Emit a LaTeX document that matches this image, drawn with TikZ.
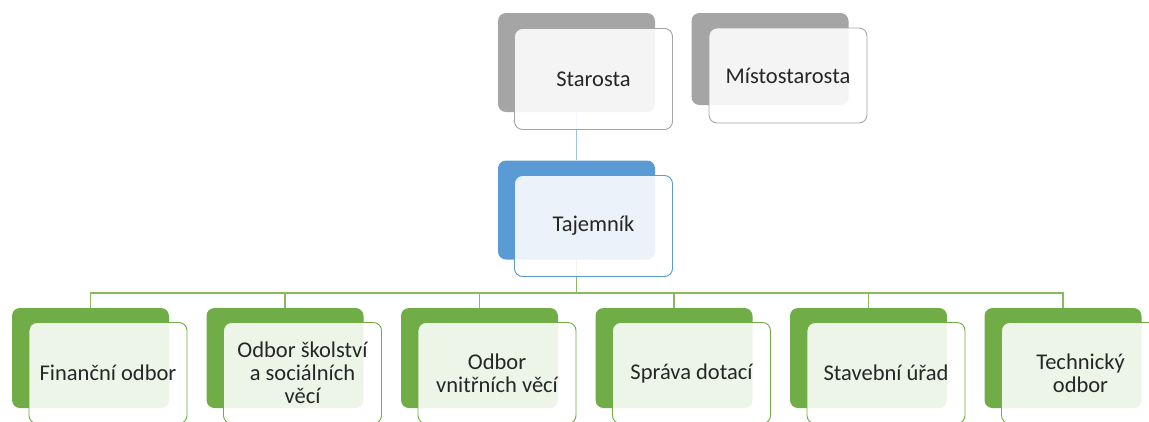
\documentclass[tikz,border=0pt]{standalone}
\usepackage{fontspec}
\setmainfont{Carlito}
\definecolor{greyback}{HTML}{A5A5A5}
\definecolor{blueback}{HTML}{5B9BD5}
\definecolor{greenback}{HTML}{70AD47}
\definecolor{blueline}{HTML}{9DC3E6}
\definecolor{greenline}{HTML}{86BC5F}
\definecolor{textgrey}{HTML}{262626}

\begin{document}
\begin{tikzpicture}[x=1pt,y=-1pt]
\tikzstyle{every node}+=[inner sep=0pt]
\tikzstyle{back}=[rounded corners=8pt, minimum width=157pt, minimum height=99pt]
\tikzstyle{front}=[draw, line width=0.9pt, rounded corners=8pt, fill=white, fill opacity=0.88, text opacity=1, minimum width=158pt, minimum height=101pt, align=center, text=textgrey, font=\fontsize{22.5}{23}\selectfont]
\useasboundingbox (0,0) rectangle (1149,421);
\node [back, fill=greyback] (starostaB) at (576.5,62.5) {};
\node [back, fill=greyback, minimum height=92pt] (mistoB) at (770,59) {};
\node [back, fill=blueback] (tajemnikB) at (576.5,210) {};
\foreach \i/\name in {0/financni,1/skolstvi,2/vnitrni,3/dotace,4/stavebni,5/technicky}
  \node [back, fill=greenback, minimum height=100pt] (\name B) at (90.5+194.5*\i,358) {};
\coordinate (bus) at (576.5,293);
\draw [blueline, line width=1pt] (starostaB) -- (tajemnikB);
\draw [greenline, line width=1.2pt] (tajemnikB.south) -- (bus);
\foreach \name in {financni,skolstvi,vnitrni,dotace,stavebni,technicky}
  \draw [greenline, line width=1.2pt] (bus) -| (\name B.north);
\node [front, draw=greyback] (starosta) at (593.5,79) {Starosta};
\node [front, draw=greyback, minimum height=95pt] (misto) at (788,75.5) {Místostarosta};
\node [front, draw=blueback] (tajemnik) at (593.5,226) {Tajemník};
\foreach \i/\name/\txt in {0/financni/Finanční odbor, 1/skolstvi/{Odbor školství\\a sociálních\\věcí}, 2/vnitrni/{Odbor\\vnitřních věcí}, 3/dotace/Správa dotací, 4/stavebni/Stavební úřad, 5/technicky/{Technický\\odbor}}
  \node [front, draw=greenback] (\name) at (108+194.5*\i,373) {\txt};
\end{tikzpicture}
\end{document}
